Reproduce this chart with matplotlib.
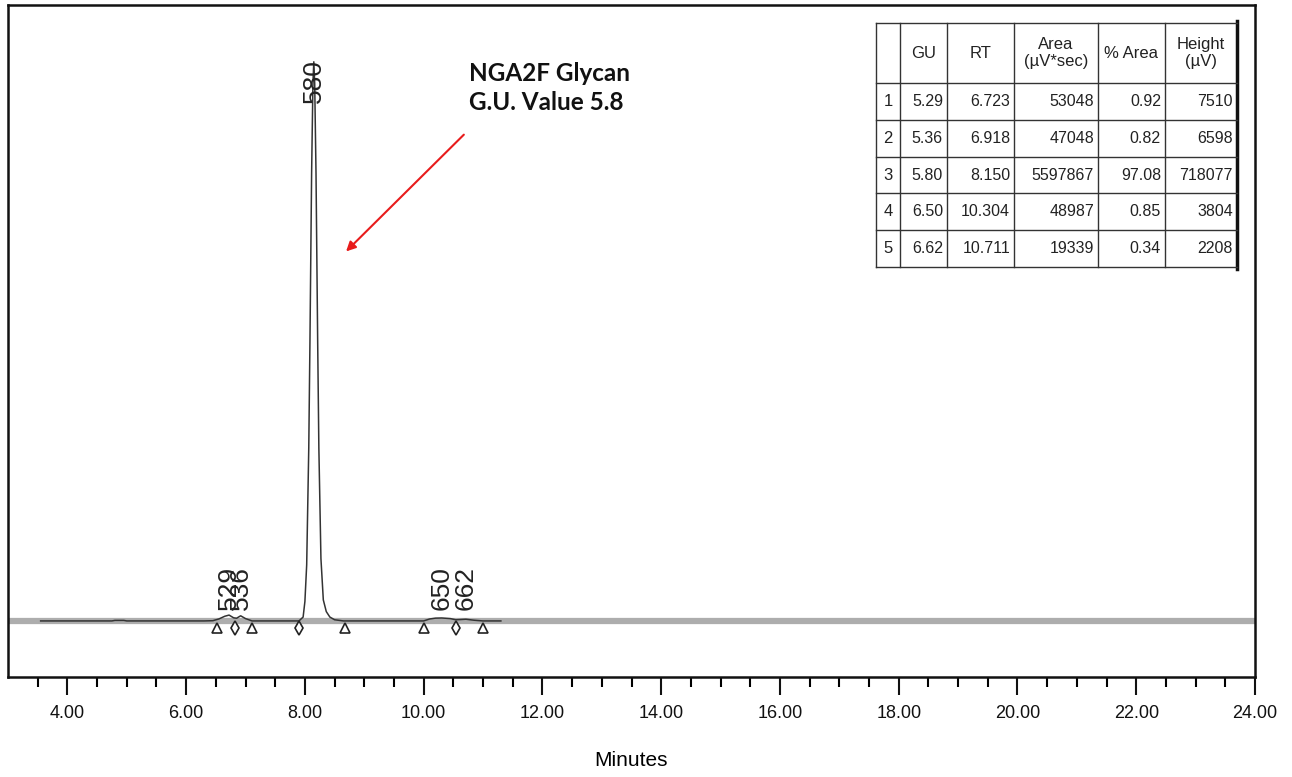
import numpy as np
import matplotlib
matplotlib.use('Agg')
from matplotlib import pyplot as plt

# peak table
peak_no = [1, 2, 3, 4, 5]
gu = [5.29, 5.36, 5.80, 6.50, 6.62]
rt = [6.723, 6.918, 8.150, 10.304, 10.711]
area = [53048, 47048, 5597867, 48987, 19339]
pct_area = [0.92, 0.82, 97.08, 0.85, 0.34]
height = [7510, 6598, 718077, 3804, 2208]
peak_labels = ['529', '536', '580', '650', '662']

# detector trace, minutes vs uV
trace_t = [3.55, 4.75, 4.8, 4.95, 5.0, 6.3, 6.45, 6.55, 6.65, 6.723, 6.8, 6.85, 6.918,
           7.0, 7.11, 7.9, 7.97, 8.0, 8.03, 8.065, 8.085, 8.113, 8.135, 8.15,
           8.165, 8.187, 8.215, 8.235, 8.27, 8.31, 8.36, 8.42, 8.5, 8.65, 9.0,
           10.0, 10.1, 10.2, 10.304, 10.45, 10.54, 10.62, 10.711, 10.85, 11.0, 11.3]
trace_v = [0, 0, 700, 700, 0, 0, 300, 2500, 6000, 7510, 4000, 3500, 6598,
           3000, 0, 0, 5000, 25000, 72000, 222000, 359000, 575000, 690000, 718077,
           690000, 575000, 359000, 222000, 80000, 27000, 12000, 5000, 1500, 0, 0,
           0, 2500, 3600, 3804, 3000, 1500, 1800, 2208, 900, 0, 0]

# integration marks
start_end_marks = [6.52, 7.11, 8.68, 10.01, 11.0]
valley_marks = [6.83, 7.90, 10.54]

xticks_major = [4, 6, 8, 10, 12, 14, 16, 18, 20, 22, 24]
xtick_labels = ['4.00', '6.00', '8.00', '10.00', '12.00', '14.00', '16.00',
                '18.00', '20.00', '22.00', '24.00']

W, H = 1292, 777
fig = plt.figure(figsize=(W / 100, H / 100), dpi=100)
plt.rcParams['font.family'] = ['Liberation Sans', 'DejaVu Sans']

ax = fig.add_axes([8 / W, (H - 677) / H, (1255 - 8) / W, (677 - 5) / H])
ax.set_xlim(3.0, 24.0)
ax.set_ylim(-72000, 791000)

ax.axhline(0, color='#adadad', lw=4.5, zorder=1)
ax.plot(trace_t, trace_v, color='#333333', lw=1.1, zorder=2)

ax.plot(start_end_marks, [-9000] * len(start_end_marks), ls='none', marker='^',
        ms=7, mfc='white', mec='#222222', mew=1.2, zorder=3)
ax.plot(valley_marks, [-9000] * len(valley_marks), ls='none', marker='d',
        ms=7, mfc='white', mec='#222222', mew=1.2, zorder=3)

# GU labels at the apex (the two first ones overlap in the original too)
for t, lab, h in zip(rt, peak_labels, height):
    if h > 100000:
        ax.text(t, 722000, lab, rotation=90, ha='center', va='top',
                fontsize=19, color='#222222', zorder=4)
    else:
        ax.text(t, 14000, lab, rotation=90, ha='center', va='bottom',
                fontsize=19, color='#222222', zorder=4)

ax.annotate('', xy=(8.66, 472000), xytext=(10.71, 627000),
            arrowprops=dict(arrowstyle='-|>', color='#e81c1c', lw=1.5,
                            mutation_scale=14))
ax.text(10.76, 718000, 'NGA2F Glycan\nG.U. Value 5.8', ha='left', va='top',
        fontsize=17.5, fontweight='bold', family=['Lato', 'DejaVu Sans'],
        linespacing=1.3, color='#111111')

ax.set_yticks([])
ax.set_xticks(xticks_major)
ax.set_xticklabels(xtick_labels)
ax.set_xticks(np.arange(3.5, 24.0, 0.5), minor=True)
ax.tick_params(axis='x', which='major', direction='out', length=13, width=1.5,
               pad=7, labelsize=13, colors='#111111')
ax.tick_params(axis='x', which='minor', direction='out', length=7, width=1.5)
for s in ax.spines.values():
    s.set_linewidth(1.8)
    s.set_color('#111111')
ax.set_xlabel('Minutes', fontsize=15, labelpad=21)

# peak table drawn in pixel coordinates
tab = fig.add_axes([0, 0, 1, 1], facecolor='none')
tab.set_xlim(0, W)
tab.set_ylim(H, 0)
tab.axis('off')
col_x = [876, 900, 947, 1014, 1098, 1165, 1237]
row_y = [23, 83, 120, 157, 193, 230, 267]
for x in col_x[:-1]:
    tab.plot([x, x], [row_y[0], row_y[-1]], color='#333333', lw=1)
tab.plot([col_x[-1], col_x[-1]], [row_y[0] - 2, row_y[-1] + 2], color='#111111', lw=2.5)
for y in row_y:
    tab.plot([col_x[0], col_x[-1]], [y, y], color='#333333', lw=1)

headers = ['', 'GU', 'RT', 'Area\n(µV*sec)', '% Area', 'Height\n(µV)']
hy = (row_y[0] + row_y[1]) / 2
for i, txt in enumerate(headers):
    tab.text((col_x[i] + col_x[i + 1]) / 2, hy, txt, ha='center', va='center',
             fontsize=12, linespacing=1.1, color='#222222')

rows = zip(peak_no, gu, rt, area, pct_area, height)
for r, (n, g, t, a, p, h) in enumerate(rows):
    cy = (row_y[r + 1] + row_y[r + 2]) / 2
    cells = ['%.2f' % g, '%.3f' % t, '%d' % a, '%.2f' % p, '%d' % h]
    tab.text((col_x[0] + col_x[1]) / 2, cy, str(n), ha='center', va='center',
             fontsize=12, color='#222222')
    for j, c in enumerate(cells):
        tab.text(col_x[j + 2] - 4, cy, c, ha='right', va='center',
                 fontsize=11.5, color='#222222')

fig.savefig('out.png', dpi=100)
